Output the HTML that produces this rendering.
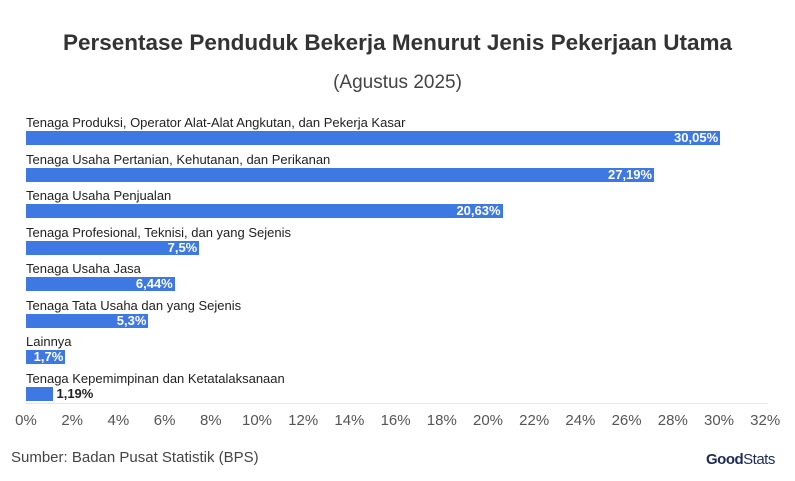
<!DOCTYPE html>
<html><head><meta charset="utf-8"><style>
body{margin:0;background:#fff;font-family:"Liberation Sans",sans-serif;}
#c{position:relative;width:795px;height:481px;overflow:hidden}
.t{position:absolute;white-space:nowrap}
.bar{position:absolute;left:26px;height:14px;background:#3d78e3}
.v{position:absolute;font-weight:bold;font-size:13px;color:#fff;line-height:14px;text-align:right}
.lab{position:absolute;left:26px;font-size:13px;color:#222;line-height:14px}
.tick{position:absolute;top:412px;font-size:15px;color:#555;transform:translateX(-50%)}
</style></head><body><div id="c">
<div class="t" style="left:0;width:795px;text-align:center;top:30px;font-size:22.5px;font-weight:bold;color:#333">Persentase Penduduk Bekerja Menurut Jenis Pekerjaan Utama</div>
<div class="t" style="left:0;width:795px;text-align:center;top:72px;font-size:19px;color:#444">(Agustus 2025)</div>
<div id="bars"></div>
<div style="position:absolute;left:26px;width:742px;top:403px;height:1px;background:#e6e6e6"></div>
<div id="ticks"></div>
<div class="t" style="left:11px;top:449px;font-size:15px;color:#444">Sumber: Badan Pusat Statistik (BPS)</div>
<div class="t" style="left:706px;top:451px;font-size:15px;font-weight:bold;color:#1d2b5a;letter-spacing:-0.5px">Good<span style="font-weight:normal">Stats</span></div>
</div>
<script>
var d=[["Tenaga Produksi, Operator Alat-Alat Angkutan, dan Pekerja Kasar",30.05,"30,05%"],["Tenaga Usaha Pertanian, Kehutanan, dan Perikanan",27.19,"27,19%"],["Tenaga Usaha Penjualan",20.63,"20,63%"],["Tenaga Profesional, Teknisi, dan yang Sejenis",7.5,"7,5%"],["Tenaga Usaha Jasa",6.44,"6,44%"],["Tenaga Tata Usaha dan yang Sejenis",5.3,"5,3%"],["Lainnya",1.7,"1,7%"],["Tenaga Kepemimpinan dan Ketatalaksanaan",1.19,"1,19%"]];
var s=23.1,h="";
d.forEach(function(r,i){var y=131+i*36.57,w=r[1]*s;
h+='<div class="lab" style="top:'+(y-15)+'px">'+r[0]+'</div><div class="bar" style="top:'+y+'px;width:'+w+'px"></div>';
if(i<7)h+='<div class="v" style="top:'+y+'px;left:26px;width:'+(w-2)+'px">'+r[2]+'</div>';
else h+='<div class="v" style="top:'+y+'px;left:'+(26+w+3)+'px;color:#222;text-align:left">'+r[2]+'</div>';});
document.getElementById("bars").innerHTML=h;h="";
for(var k=0;k<=32;k+=2)h+='<div class="tick" style="left:'+(26+k*s)+'px">'+k+'%</div>';
document.getElementById("ticks").innerHTML=h;
</script></body></html>
